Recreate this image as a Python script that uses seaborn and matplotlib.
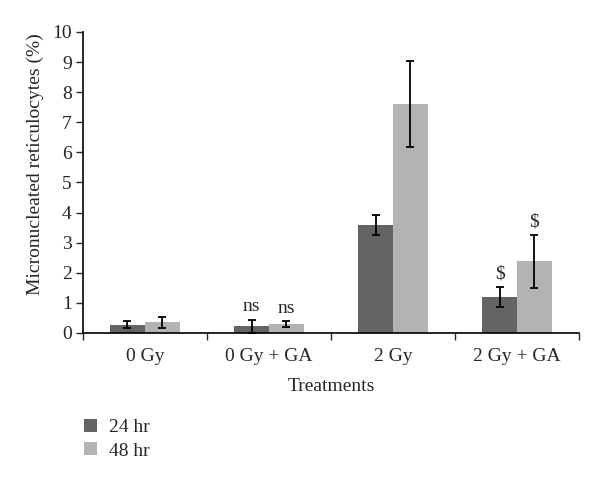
import matplotlib
matplotlib.use("Agg")
import matplotlib.pyplot as plt
from matplotlib.patches import Patch
from matplotlib.ticker import FixedLocator
import seaborn as sns
import pandas as pd

treatments = ["0 Gy", "0 Gy + GA", "2 Gy", "2 Gy + GA"]
times = ["24 hr", "48 hr"]
mean_24 = [0.28, 0.22, 3.59, 1.19]
mean_48 = [0.35, 0.29, 7.61, 2.38]
err_24 = [0.11, 0.22, 0.33, 0.33]
err_48 = [0.18, 0.10, 1.42, 0.87]
marks_24 = ["", "ns", "", "$"]
marks_48 = ["", "ns", "", "$"]
colors = ["#646464", "#b3b3b3"]

df = pd.DataFrame({
    "Treatment": treatments * 2,
    "Time": [times[0]] * 4 + [times[1]] * 4,
    "Value": mean_24 + mean_48,
    "Err": err_24 + err_48,
    "Mark": marks_24 + marks_48,
})

sns.set_style("ticks")
plt.rcParams["font.family"] = ["Liberation Serif", "DejaVu Serif"]
fs = 14

fig = plt.figure(figsize=(6, 4.84), dpi=100)
ax = fig.add_axes([0.138, 0.312, 0.827, 0.622])
sns.barplot(data=df, x="Treatment", y="Value", hue="Time", order=treatments,
            hue_order=times, palette=colors, width=0.56, errorbar=None,
            saturation=1, linewidth=0, ax=ax, legend=False)

# error bars and significance marks at the bar centres
for i, t in enumerate(times):
    cont = ax.containers[i]
    sub = df[df["Time"] == t].set_index("Treatment").loc[treatments]
    for bar, (_, row) in zip(cont.patches, sub.iterrows()):
        cx = bar.get_x() + bar.get_width() / 2
        h = bar.get_height()
        ax.errorbar(cx, h, yerr=row["Err"], color="black", lw=1.3,
                    capsize=3, capthick=1.3)
        if row["Mark"]:
            ax.text(cx, h + row["Err"] + 0.43, row["Mark"], ha="center",
                    va="center", fontsize=fs)

ax.set_ylim(0, 10)
ax.set_xlim(-0.5, 3.5)
ax.set_yticks(range(0, 11))
ax.tick_params(axis="y", labelsize=fs, length=5, width=1, direction="out", pad=3)
ax.tick_params(axis="x", which="major", length=0, labelsize=fs, pad=11)
ax.xaxis.set_minor_locator(FixedLocator([-0.5, 0.5, 1.5, 2.5, 3.5]))
ax.tick_params(axis="x", which="minor", length=5, width=1, direction="out")
ax.set_xlabel("Treatments", fontsize=fs, labelpad=9)
ax.set_ylabel("Micronucleated reticulocytes (%)", fontsize=fs)
ax.yaxis.set_label_coords(-0.078, 0.56)
sns.despine(ax=ax)
for s in ["left", "bottom"]:
    ax.spines[s].set_linewidth(1.2)
    ax.spines[s].set_color("black")

handles = [Patch(facecolor=c, edgecolor="none", label=t) for c, t in zip(colors, times)]
fig.legend(handles=handles, loc="upper left", bbox_to_anchor=(0.11, 0.171),
           frameon=False, fontsize=fs, handlelength=0.68, handleheight=0.68,
           handletextpad=0.65, labelspacing=0.3)

fig.savefig("out.png", dpi=100)
